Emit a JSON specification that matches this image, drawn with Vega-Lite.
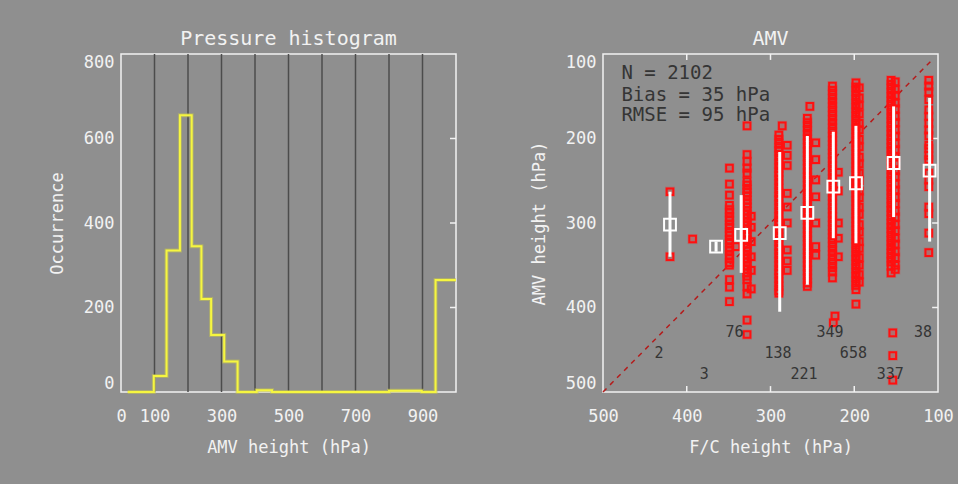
{
  "$schema": "https://vega.github.io/schema/vega-lite/v6.json",
  "background": "#8f8f8f",
  "padding": {"left": 47, "top": 28, "right": 17, "bottom": 33},
  "config": {
    "font": "DejaVu Sans Mono",
    "view": {"stroke": "#f2f2f2", "strokeWidth": 1.5},
    "axis": {
      "labelFont": "DejaVu Sans Mono", "labelFontSize": 17, "labelColor": "#f2f2f2",
      "titleFont": "DejaVu Sans Mono", "titleFontSize": 17, "titleFontWeight": "normal", "titleColor": "#f2f2f2",
      "domain": false, "grid": false, "ticks": false, "titlePadding": 12
    },
    "axisX": {"titlePadding": 15, "labelFlush": false},
    "axisY": {"titlePadding": 17},
    "title": {"font": "DejaVu Sans Mono", "fontSize": 20, "fontWeight": "normal", "color": "#f2f2f2", "offset": 4},
    "concat": {"spacing": 64}
  },
  "datasets": {
    "hist": [
      {"p": 20, "n": 0}, {"p": 98, "n": 38}, {"p": 136, "n": 335}, {"p": 176, "n": 655},
      {"p": 211, "n": 345}, {"p": 240, "n": 220}, {"p": 269, "n": 135}, {"p": 308, "n": 72},
      {"p": 348, "n": 0}, {"p": 405, "n": 4}, {"p": 451, "n": 0}, {"p": 800, "n": 3},
      {"p": 898, "n": 0}, {"p": 939, "n": 265}, {"p": 1000, "n": 265}
    ],
    "gridlines": [
      {"p": 100}, {"p": 200}, {"p": 300}, {"p": 400}, {"p": 500}, {"p": 600}, {"p": 700}, {"p": 800}, {"p": 900}
    ],
    "histTicks": [{"n": 200}, {"n": 400}, {"n": 600}],
    "amvTicks": [{"v": 200}, {"v": 300}, {"v": 400}],
    "diag": [{"f": 500, "a": 500}, {"f": 105, "a": 105}],
    "amv": [
      {"f": 420, "a": 263}, {"f": 420, "a": 340}, {"f": 393, "a": 319},
      {"f": 349, "a": 235}, {"f": 349, "a": 254}, {"f": 349, "a": 267}, {"f": 349, "a": 279}, {"f": 349, "a": 284},
      {"f": 349, "a": 288}, {"f": 349, "a": 293}, {"f": 349, "a": 297}, {"f": 349, "a": 302}, {"f": 349, "a": 306},
      {"f": 349, "a": 311}, {"f": 349, "a": 315}, {"f": 349, "a": 320}, {"f": 349, "a": 324}, {"f": 349, "a": 329},
      {"f": 349, "a": 333}, {"f": 349, "a": 338}, {"f": 349, "a": 342}, {"f": 349, "a": 347}, {"f": 349, "a": 350},
      {"f": 349, "a": 367}, {"f": 349, "a": 376}, {"f": 349, "a": 393},
      {"f": 328, "a": 185}, {"f": 328, "a": 219}, {"f": 328, "a": 227}, {"f": 328, "a": 235}, {"f": 328, "a": 241},
      {"f": 328, "a": 251}, {"f": 328, "a": 255}, {"f": 328, "a": 260}, {"f": 328, "a": 264}, {"f": 328, "a": 268},
      {"f": 328, "a": 273}, {"f": 328, "a": 277}, {"f": 328, "a": 281}, {"f": 328, "a": 286}, {"f": 328, "a": 290},
      {"f": 328, "a": 294}, {"f": 328, "a": 299}, {"f": 328, "a": 303}, {"f": 328, "a": 307}, {"f": 328, "a": 312},
      {"f": 328, "a": 316}, {"f": 328, "a": 320}, {"f": 328, "a": 325}, {"f": 328, "a": 329}, {"f": 328, "a": 333},
      {"f": 328, "a": 338}, {"f": 328, "a": 342}, {"f": 328, "a": 346}, {"f": 328, "a": 351}, {"f": 328, "a": 355},
      {"f": 328, "a": 359}, {"f": 328, "a": 363}, {"f": 328, "a": 367}, {"f": 328, "a": 375}, {"f": 328, "a": 384},
      {"f": 328, "a": 415}, {"f": 328, "a": 432},
      {"f": 323, "a": 292}, {"f": 323, "a": 305}, {"f": 323, "a": 322}, {"f": 323, "a": 340}, {"f": 323, "a": 356},
      {"f": 323, "a": 378}, {"f": 341, "a": 328},
      {"f": 290, "a": 196}, {"f": 290, "a": 201}, {"f": 290, "a": 206}, {"f": 290, "a": 211}, {"f": 290, "a": 215},
      {"f": 290, "a": 220}, {"f": 290, "a": 225}, {"f": 290, "a": 230}, {"f": 290, "a": 235}, {"f": 290, "a": 240},
      {"f": 290, "a": 244}, {"f": 290, "a": 249}, {"f": 290, "a": 254}, {"f": 290, "a": 259}, {"f": 290, "a": 264},
      {"f": 290, "a": 269}, {"f": 290, "a": 273}, {"f": 290, "a": 278}, {"f": 290, "a": 283}, {"f": 290, "a": 288},
      {"f": 290, "a": 293}, {"f": 290, "a": 298}, {"f": 290, "a": 302}, {"f": 290, "a": 307}, {"f": 290, "a": 312},
      {"f": 290, "a": 317}, {"f": 290, "a": 322}, {"f": 290, "a": 327}, {"f": 290, "a": 331}, {"f": 290, "a": 336},
      {"f": 290, "a": 341}, {"f": 290, "a": 346}, {"f": 290, "a": 351}, {"f": 290, "a": 356}, {"f": 290, "a": 360},
      {"f": 290, "a": 365}, {"f": 290, "a": 370}, {"f": 290, "a": 375}, {"f": 290, "a": 380}, {"f": 290, "a": 383},
      {"f": 280, "a": 208}, {"f": 280, "a": 220}, {"f": 280, "a": 232}, {"f": 280, "a": 265}, {"f": 280, "a": 281},
      {"f": 280, "a": 300}, {"f": 280, "a": 332}, {"f": 280, "a": 345}, {"f": 280, "a": 356}, {"f": 286, "a": 185},
      {"f": 253, "a": 162}, {"f": 256, "a": 176}, {"f": 256, "a": 181}, {"f": 256, "a": 186}, {"f": 256, "a": 191},
      {"f": 256, "a": 196}, {"f": 256, "a": 201}, {"f": 256, "a": 206}, {"f": 256, "a": 211}, {"f": 256, "a": 216},
      {"f": 256, "a": 221}, {"f": 256, "a": 226}, {"f": 256, "a": 231}, {"f": 256, "a": 236}, {"f": 256, "a": 241},
      {"f": 256, "a": 246}, {"f": 256, "a": 251}, {"f": 256, "a": 256}, {"f": 256, "a": 261}, {"f": 256, "a": 266},
      {"f": 256, "a": 271}, {"f": 256, "a": 276}, {"f": 256, "a": 281}, {"f": 256, "a": 286}, {"f": 256, "a": 291},
      {"f": 256, "a": 296}, {"f": 256, "a": 301}, {"f": 256, "a": 306}, {"f": 256, "a": 311}, {"f": 256, "a": 316},
      {"f": 256, "a": 321}, {"f": 256, "a": 326}, {"f": 256, "a": 331}, {"f": 256, "a": 336}, {"f": 256, "a": 341},
      {"f": 256, "a": 346}, {"f": 256, "a": 351}, {"f": 256, "a": 356}, {"f": 256, "a": 361}, {"f": 256, "a": 366},
      {"f": 256, "a": 371}, {"f": 256, "a": 375},
      {"f": 246, "a": 205}, {"f": 246, "a": 225}, {"f": 246, "a": 249}, {"f": 246, "a": 269}, {"f": 246, "a": 300},
      {"f": 246, "a": 328}, {"f": 246, "a": 338},
      {"f": 226, "a": 138}, {"f": 226, "a": 143}, {"f": 226, "a": 148}, {"f": 226, "a": 153}, {"f": 226, "a": 158},
      {"f": 226, "a": 163}, {"f": 226, "a": 168}, {"f": 226, "a": 173}, {"f": 226, "a": 178}, {"f": 226, "a": 183},
      {"f": 226, "a": 188}, {"f": 226, "a": 193}, {"f": 226, "a": 198}, {"f": 226, "a": 203}, {"f": 226, "a": 208},
      {"f": 226, "a": 213}, {"f": 226, "a": 218}, {"f": 226, "a": 223}, {"f": 226, "a": 228}, {"f": 226, "a": 233},
      {"f": 226, "a": 238}, {"f": 226, "a": 243}, {"f": 226, "a": 248}, {"f": 226, "a": 253}, {"f": 226, "a": 258},
      {"f": 226, "a": 263}, {"f": 226, "a": 268}, {"f": 226, "a": 273}, {"f": 226, "a": 278}, {"f": 226, "a": 283},
      {"f": 226, "a": 288}, {"f": 226, "a": 293}, {"f": 226, "a": 298}, {"f": 226, "a": 303}, {"f": 226, "a": 308},
      {"f": 226, "a": 313}, {"f": 226, "a": 318}, {"f": 226, "a": 323}, {"f": 226, "a": 328}, {"f": 226, "a": 333},
      {"f": 226, "a": 338}, {"f": 226, "a": 343}, {"f": 226, "a": 348}, {"f": 226, "a": 353}, {"f": 226, "a": 358},
      {"f": 226, "a": 365}, {"f": 223, "a": 410}, {"f": 225, "a": 418},
      {"f": 219, "a": 240}, {"f": 219, "a": 262}, {"f": 219, "a": 300}, {"f": 219, "a": 318}, {"f": 219, "a": 340},
      {"f": 198, "a": 134}, {"f": 198, "a": 139}, {"f": 198, "a": 144}, {"f": 198, "a": 149}, {"f": 198, "a": 154},
      {"f": 198, "a": 159}, {"f": 198, "a": 164}, {"f": 198, "a": 169}, {"f": 198, "a": 174}, {"f": 198, "a": 179},
      {"f": 198, "a": 184}, {"f": 198, "a": 189}, {"f": 198, "a": 194}, {"f": 198, "a": 199}, {"f": 198, "a": 204},
      {"f": 198, "a": 209}, {"f": 198, "a": 214}, {"f": 198, "a": 219}, {"f": 198, "a": 224}, {"f": 198, "a": 229},
      {"f": 198, "a": 234}, {"f": 198, "a": 239}, {"f": 198, "a": 244}, {"f": 198, "a": 249}, {"f": 198, "a": 254},
      {"f": 198, "a": 259}, {"f": 198, "a": 264}, {"f": 198, "a": 269}, {"f": 198, "a": 274}, {"f": 198, "a": 279},
      {"f": 198, "a": 284}, {"f": 198, "a": 289}, {"f": 198, "a": 294}, {"f": 198, "a": 299}, {"f": 198, "a": 304},
      {"f": 198, "a": 309}, {"f": 198, "a": 314}, {"f": 198, "a": 319}, {"f": 198, "a": 324}, {"f": 198, "a": 329},
      {"f": 198, "a": 334}, {"f": 198, "a": 339}, {"f": 198, "a": 344}, {"f": 198, "a": 349}, {"f": 198, "a": 354},
      {"f": 198, "a": 359}, {"f": 198, "a": 364}, {"f": 198, "a": 369}, {"f": 198, "a": 374}, {"f": 198, "a": 379},
      {"f": 198, "a": 396},
      {"f": 194, "a": 140}, {"f": 194, "a": 152}, {"f": 194, "a": 161}, {"f": 194, "a": 171}, {"f": 194, "a": 182},
      {"f": 194, "a": 190}, {"f": 194, "a": 201}, {"f": 194, "a": 210}, {"f": 194, "a": 222}, {"f": 194, "a": 230},
      {"f": 194, "a": 241}, {"f": 194, "a": 250}, {"f": 194, "a": 262}, {"f": 194, "a": 270}, {"f": 194, "a": 281},
      {"f": 194, "a": 290}, {"f": 194, "a": 302}, {"f": 194, "a": 311}, {"f": 194, "a": 322}, {"f": 194, "a": 330},
      {"f": 194, "a": 341}, {"f": 194, "a": 350}, {"f": 194, "a": 361}, {"f": 194, "a": 370},
      {"f": 156, "a": 131}, {"f": 156, "a": 136}, {"f": 156, "a": 141}, {"f": 156, "a": 146}, {"f": 156, "a": 151},
      {"f": 156, "a": 156}, {"f": 156, "a": 161}, {"f": 156, "a": 166}, {"f": 156, "a": 171}, {"f": 156, "a": 176},
      {"f": 156, "a": 181}, {"f": 156, "a": 186}, {"f": 156, "a": 191}, {"f": 156, "a": 196}, {"f": 156, "a": 201},
      {"f": 156, "a": 206}, {"f": 156, "a": 211}, {"f": 156, "a": 216}, {"f": 156, "a": 221}, {"f": 156, "a": 226},
      {"f": 156, "a": 231}, {"f": 156, "a": 236}, {"f": 156, "a": 241}, {"f": 156, "a": 246}, {"f": 156, "a": 251},
      {"f": 156, "a": 256}, {"f": 156, "a": 261}, {"f": 156, "a": 266}, {"f": 156, "a": 271}, {"f": 156, "a": 276},
      {"f": 156, "a": 281}, {"f": 156, "a": 286}, {"f": 156, "a": 291}, {"f": 156, "a": 296}, {"f": 156, "a": 301},
      {"f": 156, "a": 306}, {"f": 156, "a": 311}, {"f": 156, "a": 316}, {"f": 156, "a": 321}, {"f": 156, "a": 326},
      {"f": 156, "a": 331}, {"f": 156, "a": 336}, {"f": 156, "a": 341}, {"f": 156, "a": 346}, {"f": 156, "a": 351},
      {"f": 156, "a": 359},
      {"f": 151, "a": 133}, {"f": 151, "a": 142}, {"f": 151, "a": 149}, {"f": 151, "a": 158}, {"f": 151, "a": 165},
      {"f": 151, "a": 174}, {"f": 151, "a": 181}, {"f": 151, "a": 190}, {"f": 151, "a": 197}, {"f": 151, "a": 206},
      {"f": 151, "a": 213}, {"f": 151, "a": 222}, {"f": 151, "a": 229}, {"f": 151, "a": 238}, {"f": 151, "a": 245},
      {"f": 151, "a": 254}, {"f": 151, "a": 261}, {"f": 151, "a": 270}, {"f": 151, "a": 277}, {"f": 151, "a": 286},
      {"f": 151, "a": 293}, {"f": 151, "a": 302}, {"f": 151, "a": 309}, {"f": 151, "a": 318}, {"f": 151, "a": 325},
      {"f": 151, "a": 334}, {"f": 151, "a": 341}, {"f": 151, "a": 350}, {"f": 151, "a": 355},
      {"f": 154, "a": 430}, {"f": 154, "a": 457}, {"f": 154, "a": 486},
      {"f": 111, "a": 131}, {"f": 111, "a": 138}, {"f": 111, "a": 145}, {"f": 111, "a": 154}, {"f": 111, "a": 166},
      {"f": 111, "a": 174}, {"f": 111, "a": 182}, {"f": 111, "a": 190}, {"f": 111, "a": 197}, {"f": 111, "a": 208},
      {"f": 111, "a": 212}, {"f": 111, "a": 220}, {"f": 111, "a": 225}, {"f": 111, "a": 241}, {"f": 111, "a": 249},
      {"f": 111, "a": 257}, {"f": 111, "a": 281}, {"f": 111, "a": 289}, {"f": 111, "a": 312}, {"f": 111, "a": 335}
    ],
    "stats": [
      {"f": 420, "m": 302, "lo": 263, "hi": 340},
      {"f": 365, "m": 328, "lo": 322, "hi": 334},
      {"f": 335, "m": 314, "lo": 267, "hi": 359},
      {"f": 289, "m": 312, "lo": 216, "hi": 405},
      {"f": 256, "m": 288, "lo": 197, "hi": 373},
      {"f": 225, "m": 257, "lo": 192, "hi": 318},
      {"f": 198, "m": 253, "lo": 185, "hi": 324},
      {"f": 153, "m": 229, "lo": 162, "hi": 293},
      {"f": 110, "m": 238, "lo": 152, "hi": 322}
    ],
    "counts": [
      {"f": 433, "a": 454, "t": "2"}, {"f": 379, "a": 479, "t": "3"}, {"f": 343, "a": 429, "t": "76"},
      {"f": 291, "a": 454, "t": "138"}, {"f": 260, "a": 479, "t": "221"}, {"f": 229, "a": 429, "t": "349"},
      {"f": 201, "a": 454, "t": "658"}, {"f": 157, "a": 479, "t": "337"}, {"f": 118, "a": 429, "t": "38"}
    ],
    "summary": [
      {"f": 478, "a": 122, "t": "N = 2102"},
      {"f": 478, "a": 148, "t": "Bias = 35 hPa"},
      {"f": 478, "a": 172, "t": "RMSE = 95 hPa"}
    ]
  },
  "hconcat": [
    {
      "width": 335,
      "height": 338,
      "title": "Pressure histogram",
      "encoding": {
        "x": {"type": "quantitative", "scale": {"domain": [0, 1000], "nice": false}},
        "y": {"type": "quantitative", "scale": {"domain": [0, 800], "nice": false}}
      },
      "layer": [
        {
          "data": {"name": "gridlines"},
          "mark": {"type": "rule", "color": "#4c4c4c", "strokeWidth": 1.5},
          "encoding": {
            "x": {"field": "p", "type": "quantitative",
                  "axis": {"values": [0, 100, 300, 500, 700, 900], "title": "AMV height (hPa)", "labelPadding": 16}}
          }
        },
        {
          "data": {"name": "histTicks"},
          "mark": {"type": "rule", "color": "#f2f2f2", "strokeWidth": 1.5},
          "encoding": {
            "x": {"datum": 982},
            "x2": {"datum": 1000},
            "y": {"field": "n", "type": "quantitative"}
          }
        },
        {
          "data": {"name": "hist"},
          "mark": {"type": "line", "interpolate": "step-after", "color": "#c4c450", "strokeWidth": 4, "opacity": 0.55},
          "encoding": {
            "x": {"field": "p", "type": "quantitative"},
            "y": {"field": "n", "type": "quantitative"}
          }
        },
        {
          "data": {"name": "hist"},
          "mark": {"type": "line", "interpolate": "step-after", "color": "#f6f640", "strokeWidth": 2},
          "encoding": {
            "x": {"field": "p", "type": "quantitative"},
            "y": {"field": "n", "type": "quantitative",
                  "axis": {"values": [0, 200, 400, 600, 800], "title": "Occurrence", "labelPadding": 7, "labelFlush": true}}
          }
        }
      ]
    },
    {
      "width": 335,
      "height": 338,
      "title": "AMV",
      "encoding": {
        "x": {"type": "quantitative", "scale": {"domain": [100, 500], "reverse": true, "nice": false}},
        "y": {"type": "quantitative", "scale": {"domain": [100, 500], "reverse": true, "nice": false}}
      },
      "layer": [
        {
          "data": {"name": "amvTicks"},
          "mark": {"type": "rule", "color": "#f2f2f2", "strokeWidth": 1.5},
          "encoding": {
            "x": {"field": "v", "type": "quantitative",
                  "axis": {"values": [500, 400, 300, 200, 100], "title": "F/C height (hPa)", "labelPadding": 16}},
            "y": {"datum": 500},
            "y2": {"datum": 493}
          }
        },
        {
          "data": {"name": "amvTicks"},
          "mark": {"type": "rule", "color": "#f2f2f2", "strokeWidth": 1.5},
          "encoding": {
            "x": {"field": "v", "type": "quantitative"},
            "y": {"datum": 100},
            "y2": {"datum": 107}
          }
        },
        {
          "data": {"name": "amvTicks"},
          "mark": {"type": "rule", "color": "#f2f2f2", "strokeWidth": 1.5},
          "encoding": {
            "y": {"field": "v", "type": "quantitative",
                  "axis": {"values": [100, 200, 300, 400, 500], "title": "AMV height (hPa)", "labelPadding": 7, "labelFlush": true}},
            "x": {"datum": 100},
            "x2": {"datum": 107}
          }
        },
        {
          "data": {"name": "diag"},
          "mark": {"type": "line", "color": "#b41c1c", "strokeWidth": 1.5, "strokeDash": [5, 5]},
          "encoding": {
            "x": {"field": "f", "type": "quantitative"},
            "y": {"field": "a", "type": "quantitative"}
          }
        },
        {
          "data": {"name": "amv"},
          "mark": {"type": "point", "shape": "square", "filled": true, "size": 100, "color": "#ff2020", "strokeWidth": 0, "opacity": 0.28},
          "encoding": {
            "x": {"field": "f", "type": "quantitative"},
            "y": {"field": "a", "type": "quantitative"}
          }
        },
        {
          "data": {"name": "amv"},
          "mark": {"type": "point", "shape": "square", "filled": false, "size": 44, "color": "#ff1010", "strokeWidth": 2, "opacity": 1},
          "encoding": {
            "x": {"field": "f", "type": "quantitative"},
            "y": {"field": "a", "type": "quantitative"}
          }
        },
        {
          "data": {"name": "stats"},
          "mark": {"type": "rule", "color": "#ffffff", "strokeWidth": 3},
          "encoding": {
            "x": {"field": "f", "type": "quantitative"},
            "y": {"field": "lo", "type": "quantitative"},
            "y2": {"field": "hi"}
          }
        },
        {
          "data": {"name": "stats"},
          "mark": {"type": "point", "shape": "square", "filled": false, "size": 140, "color": "#ffffff", "strokeWidth": 2, "opacity": 1},
          "encoding": {
            "x": {"field": "f", "type": "quantitative"},
            "y": {"field": "m", "type": "quantitative"}
          }
        },
        {
          "data": {"name": "counts"},
          "mark": {"type": "text", "color": "#353535", "fontSize": 15, "align": "center", "baseline": "middle"},
          "encoding": {
            "x": {"field": "f", "type": "quantitative"},
            "y": {"field": "a", "type": "quantitative"},
            "text": {"field": "t"}
          }
        },
        {
          "data": {"name": "summary"},
          "mark": {"type": "text", "color": "#353535", "fontSize": 19, "align": "left", "baseline": "middle"},
          "encoding": {
            "x": {"field": "f", "type": "quantitative"},
            "y": {"field": "a", "type": "quantitative"},
            "text": {"field": "t"}
          }
        }
      ]
    }
  ]
}
